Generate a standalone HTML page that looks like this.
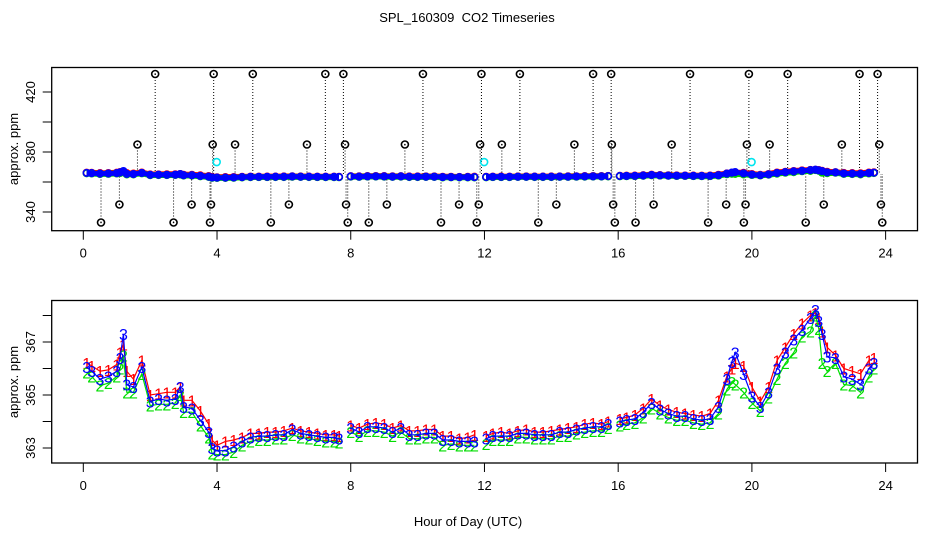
<!DOCTYPE html>
<html><head><meta charset="utf-8">
<style>
html,body{margin:0;padding:0;background:#fff;}
svg{display:block;font-family:"Liberation Sans",sans-serif;}
</style></head>
<body>
<svg id="chart" width="936" height="540" viewBox="0 0 936 540" xmlns="http://www.w3.org/2000/svg">
<rect width="936" height="540" fill="#fff"/>
<text x="467" y="22" font-size="13" text-anchor="middle" style="white-space:pre">SPL_160309  CO2 Timeseries</text>
<text x="468" y="526" font-size="13" text-anchor="middle">Hour of Day (UTC)</text>
<g id="top"></g>
<g id="bot"></g>
</svg>
<script>
// ---- data ----
const hours = [0.1,0.25,0.5,0.75,1.0,1.1,1.2,1.3,1.5,1.75,2.0,2.25,2.5,2.75,2.9,3.0,3.25,3.5,3.75,3.85,4.0,4.25,4.5,4.75,5.0,5.25,5.5,5.75,6.0,6.25,6.5,6.75,7.0,7.25,7.5,7.65,
8.0,8.25,8.5,8.75,9.0,9.25,9.5,9.75,10.0,10.25,10.5,10.75,11.0,11.25,11.5,11.7,
12.05,12.25,12.5,12.75,13.0,13.25,13.5,13.75,14.0,14.25,14.5,14.75,15.0,15.25,15.5,15.7,
16.05,16.25,16.5,16.75,17.0,17.25,17.5,17.75,18.0,18.25,18.5,18.75,19.0,19.25,19.4,19.5,19.75,20.0,20.25,20.5,20.75,21.0,21.25,21.5,21.75,21.9,22.0,22.1,22.25,22.5,22.75,23.0,23.25,23.5,23.65];
const sensor3 = [366.05,365.9,365.6,365.7,365.9,366.4,367.3,365.4,365.3,366.05,364.75,364.85,364.8,364.85,365.3,364.55,364.5,364.05,363.6,363.0,362.9,362.9,363.05,363.25,363.4,363.45,363.45,363.5,363.5,363.7,363.55,363.5,363.45,363.4,363.4,363.35,
363.75,363.6,363.8,363.8,363.75,363.6,363.75,363.5,363.5,363.55,363.55,363.3,363.3,363.25,363.25,363.25,
363.35,363.45,363.45,363.45,363.55,363.55,363.5,363.5,363.5,363.6,363.6,363.7,363.75,363.8,363.8,363.9,
364.0,364.05,364.1,364.35,364.7,364.45,364.3,364.2,364.2,364.1,364.05,364.1,364.55,365.6,366.25,366.6,365.8,364.95,364.55,365.1,366.0,366.6,367.1,367.45,367.9,368.2,367.8,367.3,366.45,366.4,365.7,365.6,365.4,366.0,366.2];
const sensor1 = [366.2,366.1,365.9,365.95,366.15,366.6,366.9,365.9,365.6,366.3,365.0,365.05,365.1,365.1,365.3,364.8,364.8,364.4,363.9,363.3,363.1,363.25,363.3,363.4,363.55,363.55,363.6,363.6,363.65,363.75,363.65,363.6,363.55,363.5,363.5,363.45,
363.85,363.75,363.9,363.95,363.9,363.75,363.85,363.65,363.65,363.7,363.7,363.45,363.45,363.35,363.4,363.5,
363.45,363.55,363.6,363.55,363.65,363.7,363.6,363.6,363.65,363.7,363.75,363.8,363.9,363.95,363.9,364.0,
364.1,364.15,364.25,364.5,364.85,364.6,364.45,364.35,364.3,364.25,364.2,364.3,364.8,365.7,366.0,366.2,366.1,365.3,364.75,365.3,366.3,366.8,367.3,367.7,368.0,368.1,367.9,367.4,366.8,366.5,366.0,365.9,365.8,366.3,366.4];
const sensor2 = [365.85,365.7,365.35,365.45,365.7,366.0,366.5,365.1,365.1,365.8,364.6,364.65,364.65,364.7,365.0,364.35,364.35,363.85,363.4,362.8,362.75,362.75,362.85,363.1,363.25,363.3,363.3,363.35,363.35,363.5,363.4,363.35,363.3,363.25,363.25,363.2,
363.6,363.45,363.65,363.65,363.6,363.45,363.6,363.35,363.35,363.4,363.4,363.1,363.15,363.1,363.1,363.1,
363.15,363.3,363.3,363.3,363.4,363.4,363.35,363.35,363.35,363.45,363.45,363.55,363.6,363.65,363.65,363.75,
363.85,363.9,363.95,364.15,364.5,364.3,364.15,364.05,364.05,363.95,363.9,363.95,364.3,365.2,365.5,365.4,365.1,364.7,364.4,364.9,365.6,366.2,366.6,367.2,367.4,368.0,367.5,366.2,365.9,366.2,365.4,365.35,365.1,365.7,366.0];
const outlierHours = [0.53,1.08,1.62,2.15,2.70,3.24,3.79,3.82,3.87,3.90,4.54,5.07,5.61,6.15,6.69,7.24,7.78,7.83,7.86,7.91,8.54,9.08,9.62,10.16,10.70,11.24,11.77,11.83,11.87,11.91,12.52,13.06,13.61,14.15,14.69,15.25,15.79,15.81,15.85,15.90,16.52,17.06,17.60,18.15,18.69,19.23,19.76,19.81,19.85,19.91,20.53,21.07,21.61,22.15,22.69,23.22,23.76,23.81,23.86,23.90];
const outlierValues = [333,345,385,432,333,345,333,345,385,432,385,432,333,345,385,432,432,385,345,333,333,345,385,432,333,345,333,345,385,432,385,432,333,345,385,432,432,385,345,333,333,345,385,432,333,345,333,345,385,432,385,432,333,345,385,432,432,385,345,333];
const calHours = [3.99,11.99,19.99];
const calValues = [373.3,373.3,373.3];
const xTicks = [0,4,8,12,16,20,24];
const topYTicks = [340,360,380,400,420];
const topYLabels = ["340","","380","","420"];
const botYTicks = [363,364,365,366,367,368];
const botYLabels = ["363","","365","","367",""];

// ---- scales ----
const NS="http://www.w3.org/2000/svg";
const X0=51.7, X1=917.5;
const x = h => 83.3 + h*33.43;
const yTop = v => 182 - (v-360)*1.5;
const yBot = v => 448 - (v-363)*26.5;
function mk(tag, attrs, parent, txt){
  const e=document.createElementNS(NS,tag);
  for(const k in attrs) e.setAttribute(k,attrs[k]);
  if(txt!==undefined) e.textContent=txt;
  parent.appendChild(e); return e;
}
function segments(vals, yf){
  const segs=[]; let cur=[];
  for(let i=0;i<hours.length;i++){
    if(i>0 && hours[i]-hours[i-1]>0.3){ segs.push(cur); cur=[]; }
    cur.push(x(hours[i]).toFixed(1)+','+yf(vals[i]).toFixed(1));
  }
  segs.push(cur); return segs;
}
function axes(g, top, bottom, yTicks, yLabels, yf, titleY){
  const box=mk('rect',{x:X0,y:top,width:X1-X0,height:bottom-top,fill:'none',stroke:'#000','stroke-width':1.3},g);
  
  
  xTicks.forEach(t=>{
    const l=mk('line',{x1:x(t),x2:x(t),y1:bottom,y2:bottom+9,stroke:'#000'},g);
    
    
    const tx=mk('text',{x:x(t),y:bottom+27,'font-size':13,'text-anchor':'middle'},g,String(t));
    
    
  });
  yTicks.forEach((v,i)=>{
    const yy=yf(v);
    const l=mk('line',{x1:X0-9,x2:X0,y1:yy,y2:yy,stroke:'#000'},g);
    
    
    if(yLabels[i]){
      const tx=mk('text',{x:0,y:0,'font-size':13,'text-anchor':'middle',transform:`translate(35,${yy}) rotate(-90)`},g,yLabels[i]);
      
      
    }
  });
  const yt=mk('text',{x:0,y:0,'font-size':13,'text-anchor':'middle',transform:`translate(18,${titleY}) rotate(-90)`},g,'approx. ppm');
  
  
}

// ---- top panel ----
const gT=document.getElementById('top');
axes(gT,67.5,230.7,topYTicks,topYLabels,yTop,149);
outlierHours.forEach((h,i)=>{
  const l=mk('line',{x1:x(h),x2:x(h),y1:yTop(outlierValues[i]),y2:yTop(sensor3[0]-0.8),stroke:'#000','stroke-width':1,'stroke-dasharray':'1,2'},gT);
  
  
});
[[sensor1,'#ff0000'],[sensor2,'#00cc00'],[sensor3,'#0000ff']].forEach(([s,c],k)=>{
  segments(s,yTop).forEach(seg=>{
    const p=mk('polyline',{points:seg.join(' '),fill:'none',stroke:c,'stroke-width':k===2?5:6},gT);
    
    
  });
  s.forEach((v,i)=>{
    const ci=mk('circle',{cx:x(hours[i]),cy:yTop(v),r:3.3,fill:'none',stroke:c,'stroke-width':1.6},gT);
    
    
  });
});
outlierHours.forEach((h,i)=>{
  const ci=mk('circle',{cx:x(h),cy:yTop(outlierValues[i]),r:3.5,fill:'none',stroke:'#000','stroke-width':1.6},gT);
  
  
  const d=mk('circle',{cx:x(h),cy:yTop(outlierValues[i]),r:0.8,fill:'#000'},gT);
  
  
});
calHours.forEach((h,i)=>{
  const ci=mk('circle',{cx:x(h),cy:yTop(calValues[i]),r:3.5,fill:'none',stroke:'#00e5ee','stroke-width':1.6},gT);
  
  
});

// ---- bottom panel ----
const gB=document.getElementById('bot');
axes(gB,300.5,463,botYTicks,botYLabels,yBot,382);
[[sensor1,'#ff0000','1'],[sensor2,'#00dd00','2'],[sensor3,'#0000ff','3']].forEach(([s,c,lab])=>{
  segments(s,yBot).forEach(seg=>{
    const p=mk('polyline',{points:seg.join(' '),fill:'none',stroke:c,'stroke-width':1.2},gB);
    
    
  });
  s.forEach((v,i)=>{
    const t=mk('text',{x:x(hours[i]),y:yBot(v)+6,'font-size':16,'text-anchor':'middle',fill:c},gB,lab);
    
    
  });
});
</script>
</body></html>
